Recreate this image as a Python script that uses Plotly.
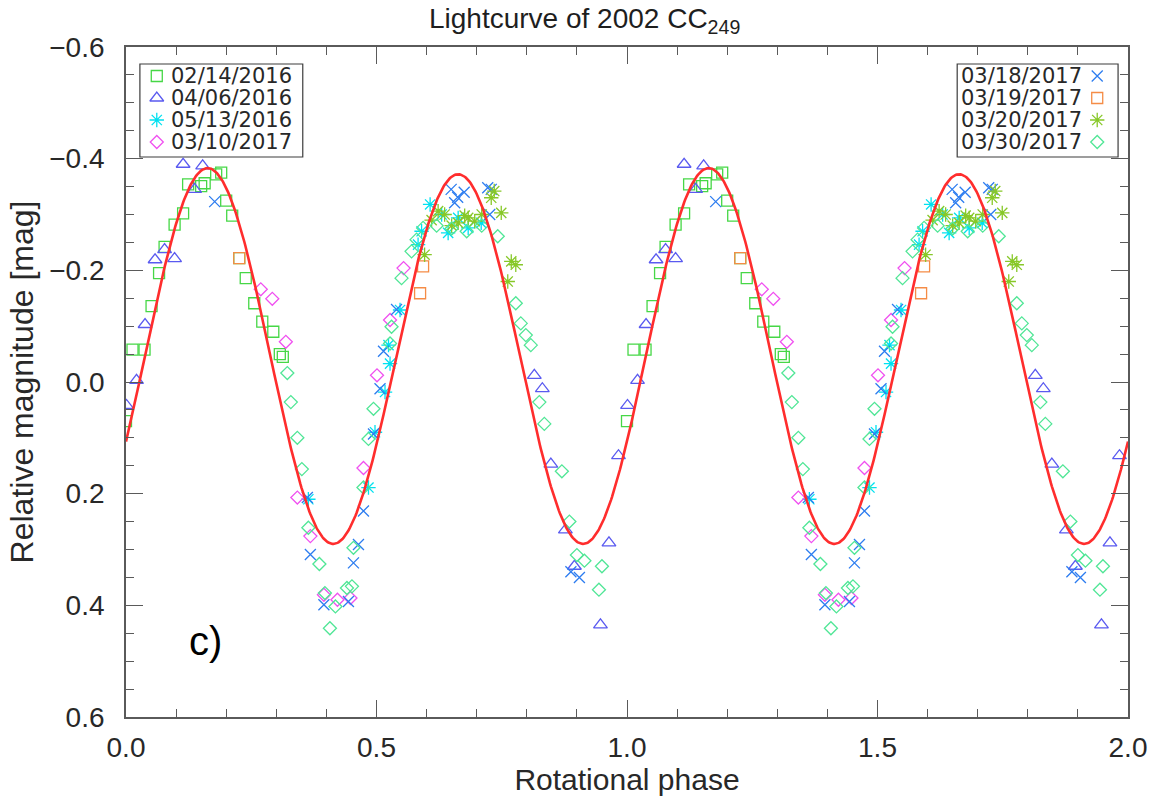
import numpy as np
import plotly.graph_objects as go

# ---- observations folded on rotational phase (one rotation; drawn twice) ----
ph_0214 = [0.000, 0.013, 0.037, 0.051, 0.066, 0.077, 0.097, 0.114, 0.124, 0.150,
           0.157, 0.180, 0.190, 0.200, 0.212, 0.226, 0.239, 0.256, 0.272, 0.294,
           0.307, 0.313]
mag_0214 = [0.070, -0.058, -0.058, -0.136, -0.195, -0.242, -0.282, -0.302, -0.354, -0.351,
            -0.356, -0.372, -0.375, -0.325, -0.298, -0.222, -0.186, -0.141, -0.108, -0.090,
            -0.050, -0.045]

ph_0406 = [0.001, 0.021, 0.038, 0.058, 0.077, 0.097, 0.114, 0.137, 0.153, 0.815,
           0.831, 0.848, 0.877, 0.895, 0.947, 0.964, 0.983]
mag_0406 = [0.042, -0.003, -0.103, -0.219, -0.237, -0.221, -0.390, -0.345, -0.387, -0.012,
            0.012, 0.147, 0.265, 0.330, 0.435, 0.288, 0.132]

ph_0513 = [0.364, 0.484, 0.497, 0.517, 0.524, 0.527, 0.547, 0.583, 0.590, 0.607,
           0.630, 0.643, 0.663, 0.683, 0.709]
mag_0513 = [0.210, 0.189, 0.090, 0.018, -0.066, -0.033, -0.129, -0.246, -0.270, -0.318,
            -0.300, -0.267, -0.294, -0.276, -0.285]

ph_0310 = [0.269, 0.292, 0.319, 0.342, 0.368, 0.395, 0.422, 0.448, 0.474, 0.501,
           0.527, 0.554]
mag_0310 = [-0.166, -0.149, -0.072, 0.207, 0.276, 0.381, 0.390, 0.387, 0.154, -0.012,
            -0.111, -0.204]

ph_0318 = [0.177, 0.362, 0.368, 0.395, 0.444, 0.454, 0.464, 0.474, 0.494, 0.507,
           0.514, 0.540, 0.649, 0.656, 0.662, 0.675, 0.722, 0.726, 0.729, 0.888,
           0.905]
mag_0318 = [-0.323, 0.207, 0.309, 0.399, 0.393, 0.324, 0.291, 0.231, 0.093, 0.012,
            -0.055, -0.130, -0.345, -0.321, -0.331, -0.340, -0.348, -0.300, -0.345, 0.340,
            0.350]

ph_0319 = [0.226, 0.587, 0.593]
mag_0319 = [-0.222, -0.159, -0.207]

ph_0320 = [0.596, 0.610, 0.623, 0.636, 0.650, 0.663, 0.676, 0.683, 0.696, 0.710,
           0.729, 0.735, 0.749, 0.762, 0.769, 0.778]
mag_0320 = [-0.228, -0.290, -0.306, -0.300, -0.280, -0.285, -0.298, -0.294, -0.288, -0.300,
            -0.330, -0.342, -0.303, -0.180, -0.216, -0.210]

ph_0330 = [0.322, 0.329, 0.342, 0.351, 0.364, 0.386, 0.397, 0.407, 0.418, 0.441,
           0.451, 0.454, 0.474, 0.484, 0.494, 0.527, 0.530, 0.550, 0.570, 0.580,
           0.593, 0.620, 0.650, 0.680, 0.710, 0.742, 0.778, 0.788, 0.798, 0.808,
           0.825, 0.835, 0.870, 0.885, 0.900, 0.915, 0.944, 0.950]
mag_0330 = [-0.016, 0.036, 0.100, 0.156, 0.261, 0.326, 0.378, 0.441, 0.402, 0.369,
            0.366, 0.297, 0.189, 0.102, 0.048, -0.069, -0.099, -0.186, -0.234, -0.255,
            -0.276, -0.280, -0.275, -0.270, -0.280, -0.261, -0.141, -0.105, -0.084, -0.066,
            0.036, 0.075, 0.160, 0.250, 0.310, 0.320, 0.372, 0.330]

# ---- two-harmonic Fourier fit of the lightcurve ----
fit_mean = -0.0438
fit_amp_half = 0.3338      # amplitude of the double-peaked (2nd) harmonic
fit_amp_full = 0.0055      # amplitude of the 1st harmonic
fit_phase0 = 0.163         # phase of the primary maximum

series = [
    ("02/14/2016", ph_0214, mag_0214, "square-open", "rgb(70,215,70)", 11),
    ("04/06/2016", ph_0406, mag_0406, "triangle-up-open", "rgb(90,90,240)", 12),
    ("05/13/2016", ph_0513, mag_0513, "asterisk-open", "rgb(0,225,240)", 12),
    ("03/10/2017", ph_0310, mag_0310, "diamond-open", "rgb(240,80,240)", 10),
    ("03/18/2017", ph_0318, mag_0318, "x-thin-open", "rgb(45,125,240)", 11),
    ("03/19/2017", ph_0319, mag_0319, "square-open", "rgb(245,140,70)", 11),
    ("03/20/2017", ph_0320, mag_0320, "asterisk-open", "rgb(135,200,40)", 12),
    ("03/30/2017", ph_0330, mag_0330, "diamond-open", "rgb(80,230,150)", 10),
]

FONT = "Liberation Sans, Arial, sans-serif"
LEG_FONT = "DejaVu Sans, sans-serif"
AX = "rgb(90,90,90)"
TXT = "rgb(40,40,40)"

# plot area in pixels
W, H = 1159, 801
L, R, T, B = 126, 1135, 47, 717

fig = go.Figure()

for name, ph, mg, sym, col, sz in series:
    x = np.concatenate([np.array(ph), np.array(ph) + 1.0])
    y = np.concatenate([np.array(mg), np.array(mg)])
    fig.add_trace(go.Scatter(
        x=x, y=y, mode="markers", name=name, showlegend=False,
        marker=dict(symbol=sym, size=sz, color=col, line=dict(color=col, width=1.3)),
    ))

phase = np.linspace(0.0, 2.0, 1001)
fit = (fit_mean
       - fit_amp_half * np.cos(4 * np.pi * (phase - fit_phase0))
       - fit_amp_full * np.cos(2 * np.pi * (phase - fit_phase0)))
fig.add_trace(go.Scatter(x=phase, y=fit, mode="lines", showlegend=False,
                         line=dict(color="rgb(255,45,45)", width=2.6)))

# ---- legend boxes drawn on a pixel-coordinate overlay ----
row0, pitch = 76, 22
shapes = []
annotations = []
for x0, x1 in [(140, 304), (963, 1125)]:
    shapes.append(dict(type="rect", xref="x2", yref="y2", x0=x0, x1=x1,
                       y0=64, y1=157, line=dict(color="rgb(60,60,60)", width=1.2),
                       fillcolor="white", layer="below"))

for i, (name, _, _, sym, col, sz) in enumerate(series[:4]):
    yy = row0 + i * pitch
    fig.add_trace(go.Scatter(x=[157], y=[yy], xaxis="x2", yaxis="y2", mode="markers",
                             showlegend=False, hoverinfo="skip",
                             marker=dict(symbol=sym, size=sz, color=col,
                                         line=dict(color=col, width=1.3))))
    annotations.append(dict(x=169, y=yy, xref="x2", yref="y2", text=name, showarrow=False,
                            xanchor="left", yanchor="middle",
                            font=dict(family=LEG_FONT, size=21, color=TXT)))
for i, (name, _, _, sym, col, sz) in enumerate(series[4:]):
    yy = row0 + i * pitch
    fig.add_trace(go.Scatter(x=[1104], y=[yy], xaxis="x2", yaxis="y2", mode="markers",
                             showlegend=False, hoverinfo="skip",
                             marker=dict(symbol=sym, size=sz, color=col,
                                         line=dict(color=col, width=1.3))))
    annotations.append(dict(x=1091, y=yy, xref="x2", yref="y2", text=name, showarrow=False,
                            xanchor="right", yanchor="middle",
                            font=dict(family=LEG_FONT, size=21, color=TXT)))

annotations.append(dict(x=(206 - L) / (R - L), y=(B - 641) / (B - T), xref="paper",
                        yref="paper", text="c)", showarrow=False,
                        xanchor="center", yanchor="middle",
                        font=dict(family=FONT, size=40, color="black")))
annotations.append(dict(x=(588 - L) / (R - L), y=(B - 20) / (B - T), xref="paper",
                        yref="paper", text="Lightcurve of 2002 CC<sub>249</sub>",
                        showarrow=False, xanchor="center", yanchor="middle",
                        font=dict(family=FONT, size=28, color="rgb(30,30,30)")))

axis_common = dict(showline=True, linecolor=AX, linewidth=1.8, mirror="allticks",
                   ticks="inside", tickcolor=AX, tickwidth=1.4, ticklen=17,
                   showgrid=False, zeroline=False)

fig.update_layout(
    width=W, height=H, margin=dict(l=L, r=W - R, t=T, b=H - B),
    paper_bgcolor="white", plot_bgcolor="white",
    font=dict(family=FONT, color=TXT),
    xaxis=dict(range=[0, 2], dtick=0.5, tick0=0, tickformat=".1f",
               tickfont=dict(family=FONT, size=28, color=TXT), ticklabelstandoff=4,
               minor=dict(dtick=0.1, ticks="inside", ticklen=8, tickcolor=AX, tickwidth=1.2),
               title=dict(text="Rotational phase", standoff=2,
                          font=dict(family=FONT, size=30, color=TXT)),
               **axis_common),
    yaxis=dict(range=[0.6, -0.6], dtick=0.2, tick0=0, tickformat=".1f",
               tickfont=dict(family=FONT, size=28, color=TXT), ticklabelstandoff=14,
               minor=dict(dtick=0.05, ticks="inside", ticklen=8, tickcolor=AX, tickwidth=1.2),
               title=dict(text="Relative magnitude [mag]", standoff=6,
                          font=dict(family=FONT, size=32, color=TXT)),
               **axis_common),
    xaxis2=dict(range=[L, R], domain=[0, 1], overlaying="x", visible=False, anchor="y2"),
    yaxis2=dict(range=[B, T], domain=[0, 1], overlaying="y", visible=False, anchor="x2"),
    shapes=shapes,
    annotations=annotations,
)

fig.write_html("out.html")
